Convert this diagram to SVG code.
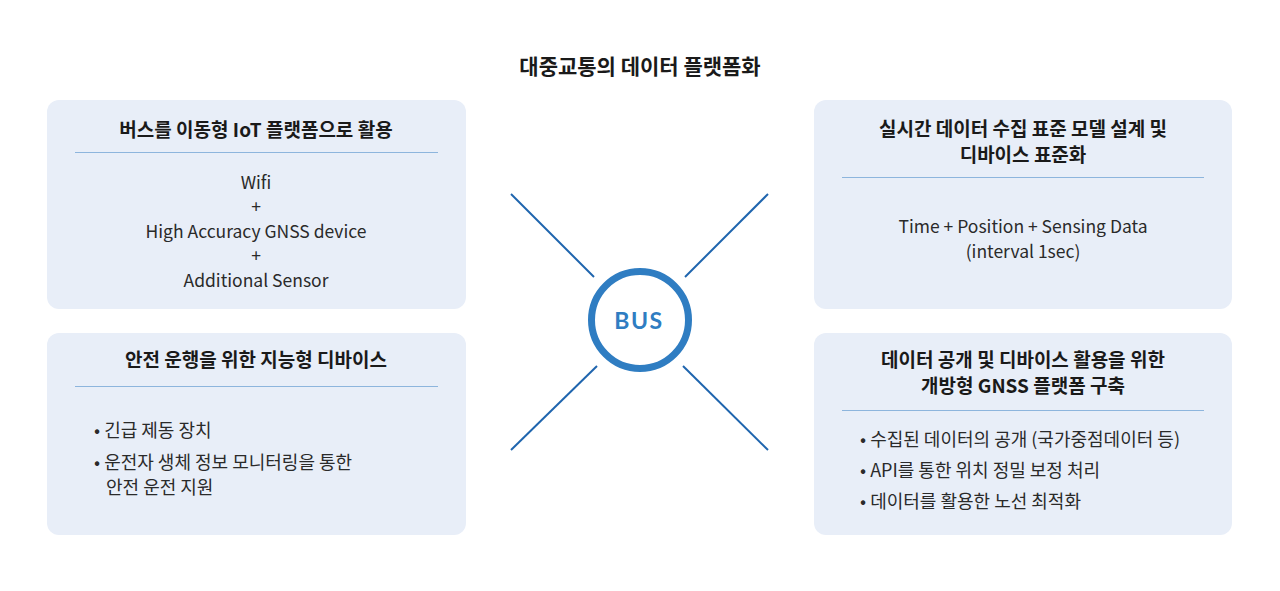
<svg xmlns="http://www.w3.org/2000/svg" width="1280" height="591" viewBox="0 0 1280 591">
<style>
.box{fill:#e8eef8}
.sep{stroke:#8db5dd;stroke-width:1.2}
.t{font-family:"Noto Sans CJK KR","Noto Sans",sans-serif;fill:#1a1a1a}
.h{font-size:19px;font-weight:700;text-anchor:middle}
.b{font-size:17.5px;font-weight:400;fill:#2a2a2a}
.k{font-size:18px}
.c{text-anchor:middle}
.ln{stroke:#1f65ae;stroke-width:2;fill:none}
</style>
<rect width="1280" height="591" fill="#ffffff"/>
<text class="t h" x="640" y="74" style="font-size:21px">대중교통의 데이터 플랫폼화</text>

<g id="box-iot">
<rect class="box" x="47" y="100" width="419" height="209" rx="12"/>
<text class="t h" x="256" y="137">버스를 이동형 IoT 플랫폼으로 활용</text>
<line class="sep" x1="75" y1="152.5" x2="438" y2="152.5"/>
<text class="t b c" x="256" y="189">Wifi</text>
<text class="t b c" x="256" y="213">+</text>
<text class="t b c" x="256" y="238">High Accuracy GNSS device</text>
<text class="t b c" x="256" y="262">+</text>
<text class="t b c" x="256" y="287">Additional Sensor</text>
</g>

<g id="box-safety">
<rect class="box" x="47" y="333" width="419" height="202" rx="12"/>
<text class="t h" x="256" y="367">안전 운행을 위한 지능형 디바이스</text>
<line class="sep" x1="75" y1="386.5" x2="438" y2="386.5"/>
<text class="t b k" x="94" y="437">• 긴급 제동 장치</text>
<text class="t b k" x="94" y="469">• 운전자 생체 정보 모니터링을 통한</text>
<text class="t b k" x="106" y="494">안전 운전 지원</text>
</g>

<g id="box-standard">
<rect class="box" x="814" y="100" width="418" height="209" rx="12"/>
<text class="t h" x="1023" y="136">실시간 데이터 수집 표준 모델 설계 및</text>
<text class="t h" x="1023" y="162">디바이스 표준화</text>
<line class="sep" x1="842" y1="177.5" x2="1204" y2="177.5"/>
<text class="t b c" x="1023" y="233">Time + Position + Sensing Data</text>
<text class="t b c" x="1023" y="258">(interval 1sec)</text>
</g>

<g id="box-open">
<rect class="box" x="814" y="333" width="418" height="202" rx="12"/>
<text class="t h" x="1023" y="367">데이터 공개 및 디바이스 활용을 위한</text>
<text class="t h" x="1023" y="393">개방형 GNSS 플랫폼 구축</text>
<line class="sep" x1="842" y1="410.5" x2="1204" y2="410.5"/>
<text class="t b k" x="860" y="446">• 수집된 데이터의 공개 (국가중점데이터 등)</text>
<text class="t b k" x="860" y="477">• API를 통한 위치 정밀 보정 처리</text>
<text class="t b k" x="860" y="508">• 데이터를 활용한 노선 최적화</text>
</g>

<g id="connectors">
<line class="ln" x1="511" y1="194" x2="594" y2="277"/>
<line class="ln" x1="768" y1="194" x2="685" y2="277"/>
<line class="ln" x1="597" y1="366" x2="511" y2="450"/>
<line class="ln" x1="683" y1="366" x2="768" y2="450"/>
</g>

<g id="bus">
<circle cx="640" cy="320" r="48.5" fill="#ffffff" stroke="#2f7dc2" stroke-width="7"/>
<text x="639" y="328.5" text-anchor="middle" font-family="Lato,'Noto Sans',sans-serif" font-size="23" font-weight="700" letter-spacing="1.5" fill="#2f7dc2">BUS</text>
</g>
</svg>
